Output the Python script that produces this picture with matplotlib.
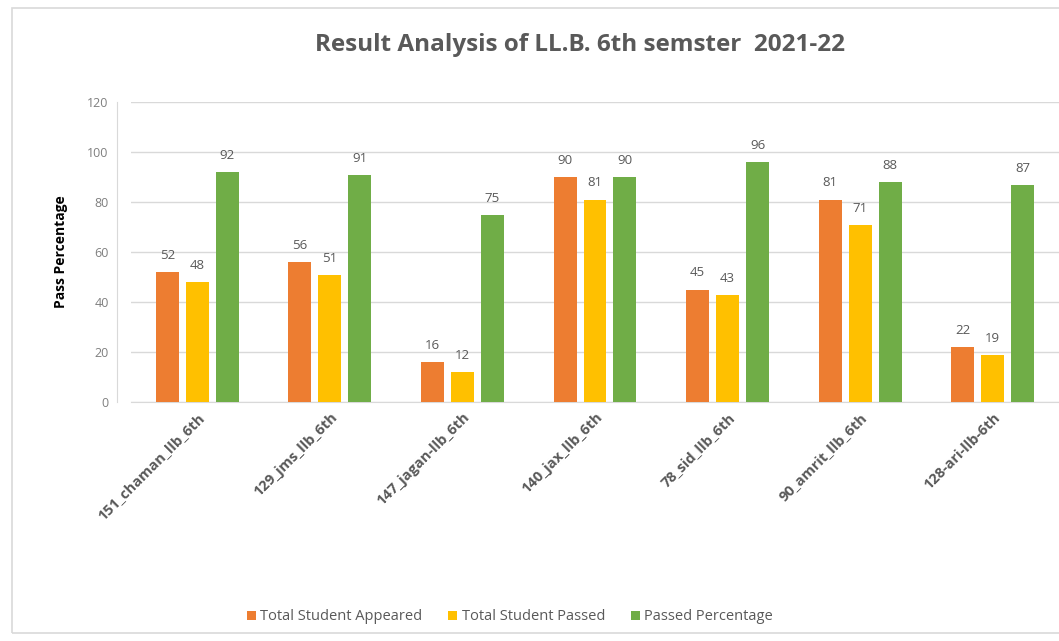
import numpy as np
import matplotlib
matplotlib.use("Agg")
from matplotlib import pyplot as plt
from matplotlib.patches import Rectangle

# data
colleges = ["151_chaman_llb_6th", "129_jms_llb_6th", "147_jagan-llb_6th", "140_jax_llb_6th",
            "78_sid_llb_6th", "90_amrit_llb_6th", "128-ari-llb-6th"]
appeared = [52, 56, 16, 90, 45, 81, 22]
passed = [48, 51, 12, 81, 43, 71, 19]
pass_pct = [92, 91, 75, 90, 96, 88, 87]
series_names = ["Total Student Appeared", "Total Student Passed", "Passed Percentage"]
colors = ["#ED7D31", "#FFC000", "#70AD47"]

plt.rcParams["font.family"] = ["Open Sans", "DejaVu Sans"]

W, H = 1059, 641
fig = plt.figure(figsize=(W / 100, H / 100), dpi=100)
fig.patches.append(Rectangle((12 / W, 8 / H), 1.2, (H - 16) / H, transform=fig.transFigure,
                             fill=False, edgecolor="#D9D9D9", lw=1.2))

ax = fig.add_axes([131 / W, 1 - 402 / H, (1059 - 131) / W, 300 / H])
x = np.arange(len(colleges))
off, bw = 0.226, 0.173
for i, (vals, name, c) in enumerate(zip([appeared, passed, pass_pct], series_names, colors)):
    bars = ax.bar(x + (i - 1) * off, vals, bw, color=c, label=name, zorder=3)
    for b, v in zip(bars, vals):
        ax.text(b.get_x() + b.get_width() / 2, v + 4, str(v), ha="center", va="bottom",
                fontsize=9.5, color="#595959")

ax.set_ylim(0, 120)
ax.set_yticks(range(0, 121, 20))
ax.set_xlim(-0.5, len(colleges) - 0.5)
ax.grid(axis="y", color="#D9D9D9", lw=1, zorder=0)
for s in ["top", "right"]:
    ax.spines[s].set_visible(False)
ax.spines["left"].set_position(("outward", 10))
ax.spines["left"].set_color("#D9D9D9")
ax.spines["bottom"].set_color("#D9D9D9")
ax.tick_params(axis="y", length=0, labelsize=9, labelcolor="#7F7F7F", pad=6)
ax.tick_params(axis="x", length=0, pad=6)
ax.set_xticks(x)
ax.set_xticklabels(colleges, rotation=45, ha="right", rotation_mode="anchor",
                   fontsize=10.5, color="#595959", fontweight="bold")
ax.set_ylabel("Pass Percentage", fontsize=10, fontweight="bold", color="#000000", labelpad=14)

fig.text(580 / W, 1 - 45 / H, "Result Analysis of LL.B. 6th semster  2021-22",
         ha="center", va="center", fontsize=17.5, fontweight="bold", color="#595959")

fig.legend(loc="center", bbox_to_anchor=(510 / W, 1 - 617 / H), ncol=3, frameon=False,
           fontsize=10.5, handlelength=0.6, handleheight=0.6, columnspacing=1.8,
           handletextpad=0.3, labelcolor="#595959")

fig.savefig("out.png", dpi=100)
